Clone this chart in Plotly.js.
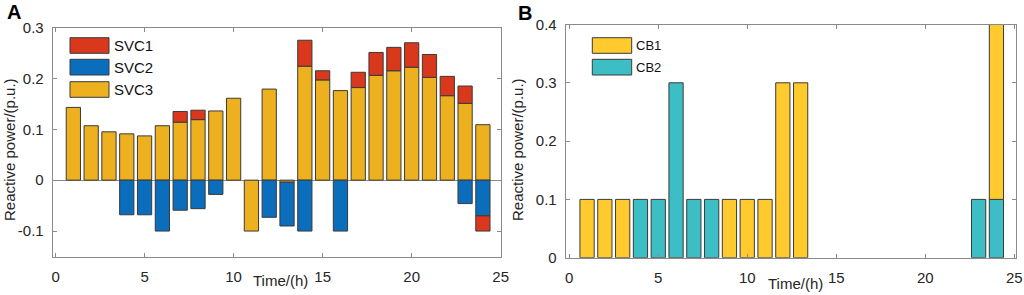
<!DOCTYPE html>
<html>
<head>
<meta charset="utf-8">
<script src="https://cdn.plot.ly/plotly-3.0.1.min.js"></script>
<style>html,body{margin:0;padding:0;background:#fff;}#chart{width:1024px;height:295px;}</style>
</head>
<body>
<div id="chart"></div>
<script>
// ---------- data ----------
var hours = [1,2,3,4,5,6,7,8,9,10,11,12,13,14,15,16,17,18,19,20,21,22,23,24];

var svcNames = ["SVC1", "SVC2", "SVC3"];
var svc1 = [null,null,null,null,null,null,0.021,0.0185,null,null,null,null,null,0.051,0.018,null,0.030,0.045,0.046,0.048,0.045,0.038,0.034,-0.030];
var svc2 = [null,null,null,-0.068,-0.068,-0.100,-0.059,-0.056,-0.028,null,null,-0.073,-0.086,-0.100,null,-0.100,null,null,null,null,null,null,-0.046,-0.070];
var svc3 = [0.143,0.107,0.095,0.091,0.087,0.107,0.114,0.119,0.136,0.161,-0.100,0.179,-0.004,0.224,0.197,0.176,0.182,0.206,0.215,0.222,0.202,0.166,0.151,0.109];

var cbNames = ["CB1", "CB2"];
var cb1 = [0.1,0.1,0.1,null,null,null,null,null,0.1,0.1,0.1,0.3,0.3,null,null,null,null,null,null,null,null,null,null,0.3];
var cb2 = [null,null,null,0.1,0.1,0.3,0.1,0.1,null,null,null,null,null,null,null,null,null,null,null,null,null,null,0.1,0.1];

var xTicks = [0,5,10,15,20,25];
var yTicksA = [-0.1,0,0.1,0.2,0.3];
var yTextA = ["-0.1","0","0.1","0.2","0.3"];
var yTicksB = [0,0.1,0.2,0.3,0.4];
var yTextB = ["0","0.1","0.2","0.3","0.4"];

var panelLabels = ["A", "B"];
var xTitle = "Time/(h)";
var yTitle = "Reactive power/(p.u.)";

// ---------- style ----------
var colSVC = ["#D9381C", "#0A6EBD", "#EDB120"];
var colCB = ["#FFCA2E", "#3DBEC4"];
var edge = {color: "#3a3a3a", width: 1};
var FONT = "Liberation Sans, Arial, sans-serif";
var W = 1024, H = 295;
function px(x){ return x / W; }
function py(y){ return 1 - y / H; }

function bar(y, name, color, xa, ya){
  return {type: "bar", x: hours, y: y, name: name, width: 0.8,
    marker: {color: color, line: edge}, xaxis: xa, yaxis: ya,
    showlegend: false, hoverinfo: "x+y+name"};
}

// stacking order: SVC3 nearest baseline, then SVC2, then SVC1; CB2 then CB1
var traces = [
  bar(svc3, svcNames[2], colSVC[2], "x", "y"),
  bar(svc2, svcNames[1], colSVC[1], "x", "y"),
  bar(svc1, svcNames[0], colSVC[0], "x", "y"),
  bar(cb2, cbNames[1], colCB[1], "x2", "y2"),
  bar(cb1, cbNames[0], colCB[0], "x2", "y2")
];

var axCommon = {
  showline: true, mirror: "ticks", linecolor: "#8a8a8a", linewidth: 1,
  ticks: "inside", ticklen: 4, tickcolor: "#8a8a8a", tickwidth: 1,
  showgrid: false, fixedrange: true,
  tickfont: {family: FONT, size: 15, color: "#262626"}
};
function ax(extra){ return Object.assign({}, axCommon, extra); }

// legend swatches and text (manual, MATLAB-style wide boxes)
var shapes = [], annotations = [];
var legA = [[37.7,53.3],[59.3,75],[81.7,97.3]];
svcNames.forEach(function(n, i){
  shapes.push({type: "rect", xref: "paper", yref: "paper",
    x0: px(70), x1: px(109), y0: py(legA[i][1]), y1: py(legA[i][0]),
    fillcolor: colSVC[i], line: edge});
  annotations.push({xref: "paper", yref: "paper", x: px(112), y: py((legA[i][0]+legA[i][1])/2),
    xanchor: "left", yanchor: "middle", showarrow: false, text: n,
    font: {family: FONT, size: 15, color: "#111"}});
});
var legB = [[37.7,53.3],[59.3,75]];
cbNames.forEach(function(n, i){
  shapes.push({type: "rect", xref: "paper", yref: "paper",
    x0: px(592.3), x1: px(631.7), y0: py(legB[i][1]), y1: py(legB[i][0]),
    fillcolor: colCB[i], line: edge});
  annotations.push({xref: "paper", yref: "paper", x: px(634), y: py((legB[i][0]+legB[i][1])/2),
    xanchor: "left", yanchor: "middle", showarrow: false, text: n,
    font: {family: FONT, size: 13, color: "#111"}});
});

// axis titles
annotations.push({xref: "paper", yref: "paper", x: px(280), y: py(280), xanchor: "center", yanchor: "middle",
  showarrow: false, text: xTitle, font: {family: FONT, size: 15, color: "#262626"}});
annotations.push({xref: "paper", yref: "paper", x: px(795), y: py(283), xanchor: "center", yanchor: "middle",
  showarrow: false, text: xTitle, font: {family: FONT, size: 15, color: "#262626"}});
annotations.push({xref: "paper", yref: "paper", x: px(9), y: py(150), xanchor: "center", yanchor: "middle",
  textangle: -90, showarrow: false, text: yTitle, font: {family: FONT, size: 15, color: "#262626"}});
annotations.push({xref: "paper", yref: "paper", x: px(517), y: py(150), xanchor: "center", yanchor: "middle",
  textangle: -90, showarrow: false, text: yTitle, font: {family: FONT, size: 15, color: "#262626"}});

// panel labels
annotations.push({xref: "paper", yref: "paper", x: px(14), y: py(12), xanchor: "center", yanchor: "middle",
  showarrow: false, text: "<b>" + panelLabels[0] + "</b>", font: {family: FONT, size: 20, color: "#000"}});
annotations.push({xref: "paper", yref: "paper", x: px(525), y: py(12.5), xanchor: "center", yanchor: "middle",
  showarrow: false, text: "<b>" + panelLabels[1] + "</b>", font: {family: FONT, size: 20, color: "#000"}});

var layout = {
  width: W, height: H,
  margin: {l: 0, r: 0, t: 0, b: 0},
  paper_bgcolor: "#fff", plot_bgcolor: "#fff",
  barmode: "relative", bargap: 0.2,
  showlegend: false,
  xaxis: ax({domain: [px(52.7), px(500.7)], range: [-0.16, 25], anchor: "y",
    tickvals: xTicks, zeroline: false, ticklabelstandoff: 6}),
  yaxis: ax({domain: [py(256.5), py(27.5)], range: [-0.15, 0.3], anchor: "x",
    tickvals: yTicksA, ticktext: yTextA, zeroline: true, zerolinecolor: "#8a8a8a", zerolinewidth: 1,
    ticklabelstandoff: 5}),
  xaxis2: ax({domain: [px(565.7), px(1016)], range: [-0.2, 25.1], anchor: "y2",
    tickvals: xTicks, zeroline: false, ticklabelstandoff: 6}),
  yaxis2: ax({domain: [py(257.7), py(24.5)], range: [0, 0.4], anchor: "x2",
    tickvals: yTicksB, ticktext: yTextB, zeroline: false, ticklabelstandoff: 5}),
  shapes: shapes,
  annotations: annotations,
  font: {family: FONT}
};

Plotly.newPlot("chart", traces, layout, {displayModeBar: false, staticPlot: true});
</script>
</body>
</html>
